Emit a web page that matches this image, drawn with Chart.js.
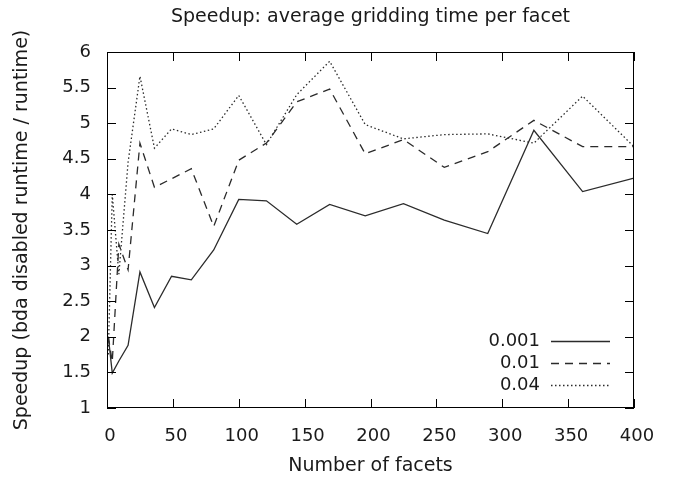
<!DOCTYPE html>
<html>
<head>
<meta charset="utf-8">
<script src="https://cdn.jsdelivr.net/npm/chart.js@4.4.1/dist/chart.umd.min.js"></script>
<style>
  html, body { margin: 0; padding: 0; background: #fff; }
  #wrap { width: 676px; height: 477px; }
</style>
</head>
<body>
<div id="wrap"><canvas id="myChart" width="676" height="477"></canvas></div>
<script>
// number of facets (x)
var facets = [1, 4, 9, 16, 25, 36, 49, 64, 81, 100, 121, 144, 169, 196, 225, 256, 289, 324, 361, 400];

// speedup per threshold
var s001 = [2.0, 1.49, 1.66, 1.88, 2.91, 2.41, 2.85, 2.80, 3.22, 3.93, 3.91, 3.58, 3.86, 3.70, 3.87, 3.64, 3.45, 4.90, 4.04, 4.23];
var s01  = [2.0, 1.65, 3.30, 2.94, 4.72, 4.10, 4.22, 4.36, 3.55, 4.48, 4.72, 5.30, 5.48, 4.57, 4.77, 4.38, 4.60, 5.04, 4.67, 4.67];
var s04  = [1.75, 4.0, 2.88, 4.45, 5.66, 4.65, 4.92, 4.84, 4.92, 5.39, 4.70, 5.40, 5.87, 4.98, 4.78, 4.84, 4.85, 4.72, 5.38, 4.67];

var seriesLabels = ['0.001', '0.01', '0.04'];
var xTicks = [0, 50, 100, 150, 200, 250, 300, 350, 400];
var yTicks = [1, 1.5, 2, 2.5, 3, 3.5, 4, 4.5, 5, 5.5, 6];

var FONT = '"DejaVu Sans", sans-serif';
var INK = '#2b2b2b';
var TXT = '#1a1a1a';

function toPoints(ys) {
    return facets.map(function (f, i) { return { x: f, y: ys[i] }; });
}

var dashes = [[], [8, 6], [1.5, 2.5]];

// frame, inward ticks, titles and key, drawn gnuplot style
var gnuplotFrame = {
    id: 'gnuplotFrame',
    afterDraw: function (chart) {
        var ctx = chart.ctx;
        var a = chart.chartArea;
        var xs = chart.scales.x, ys = chart.scales.y;
        ctx.save();
        ctx.strokeStyle = '#000';
        ctx.lineWidth = 1;
        ctx.strokeRect(a.left + 0.5, a.top + 0.5, a.right - a.left - 1, a.bottom - a.top - 1);
        ctx.beginPath();
        xTicks.forEach(function (v) {
            var px = Math.round(xs.getPixelForValue(v)) + 0.5;
            ctx.moveTo(px, a.bottom); ctx.lineTo(px, a.bottom - 9);
            ctx.moveTo(px, a.top); ctx.lineTo(px, a.top + 9);
        });
        yTicks.forEach(function (v) {
            var py = Math.round(ys.getPixelForValue(v)) + 0.5;
            ctx.moveTo(a.left, py); ctx.lineTo(a.left + 9, py);
            ctx.moveTo(a.right, py); ctx.lineTo(a.right - 9, py);
        });
        ctx.stroke();

        ctx.fillStyle = TXT;
        ctx.textAlign = 'center';
        ctx.textBaseline = 'middle';
        ctx.font = '19px ' + FONT;
        ctx.fillText('Speedup: average gridding time per facet', (a.left + a.right) / 2, 17);
        ctx.fillText('Number of facets', (a.left + a.right) / 2, 466);
        ctx.save();
        ctx.translate(22, (a.top + a.bottom) / 2);
        ctx.rotate(-Math.PI / 2);
        ctx.fillText('Speedup (bda disabled runtime / runtime)', 0, 0);
        ctx.restore();

        // key
        var rows = [341, 363, 385];
        ctx.font = '18px ' + FONT;
        ctx.textAlign = 'right';
        chart.data.datasets.forEach(function (ds, i) {
            ctx.fillStyle = TXT;
            ctx.fillText(ds.label, 540, rows[i]);
            ctx.beginPath();
            ctx.strokeStyle = INK;
            ctx.lineWidth = 1.3;
            ctx.setLineDash(ds.borderDash || []);
            ctx.moveTo(551, rows[i] + 0.5);
            ctx.lineTo(610, rows[i] + 0.5);
            ctx.stroke();
        });
        ctx.restore();
    }
};

var ctx = document.getElementById('myChart').getContext('2d');
new Chart(ctx, {
    type: 'line',
    data: {
        datasets: [s001, s01, s04].map(function (ys, i) {
            return {
                label: seriesLabels[i],
                data: toPoints(ys),
                borderColor: INK,
                borderWidth: 1.3,
                borderDash: dashes[i],
                pointRadius: 0,
                tension: 0,
                fill: false
            };
        })
    },
    options: {
        responsive: false,
        animation: false,
        layout: { padding: { top: 52, right: 42, left: 0, bottom: 0 } },
        plugins: {
            legend: { display: false },
            title: { display: false },
            tooltip: { enabled: false }
        },
        scales: {
            x: {
                type: 'linear',
                min: 0, max: 400,
                afterFit: function (s) { s.height = 69; },
                afterBuildTicks: function (s) { s.ticks = xTicks.map(function (v) { return { value: v }; }); },
                grid: { display: false },
                border: { display: false },
                ticks: { color: TXT, font: { family: FONT, size: 18 }, padding: 10, labelOffset: 3, maxRotation: 0,
                         callback: function (v) { return String(v); } }
            },
            y: {
                type: 'linear',
                min: 1, max: 6,
                afterFit: function (s) { s.width = 107; },
                afterBuildTicks: function (s) { s.ticks = yTicks.map(function (v) { return { value: v }; }); },
                grid: { display: false },
                border: { display: false },
                ticks: { color: TXT, font: { family: FONT, size: 18 }, padding: 8,
                         callback: function (v) { return String(v); } }
            }
        }
    },
    plugins: [gnuplotFrame]
});
</script>
</body>
</html>
